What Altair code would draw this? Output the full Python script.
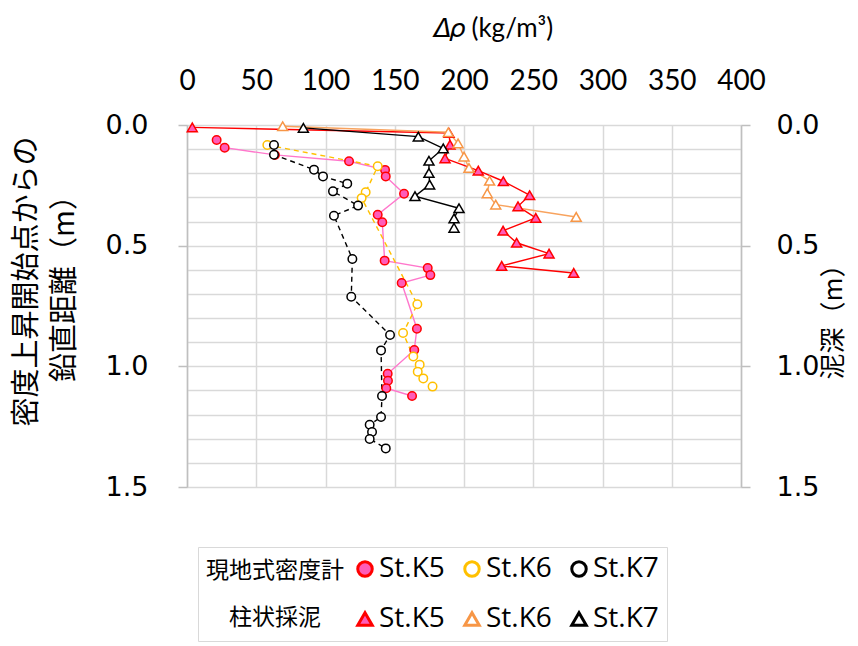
import altair as alt
import pandas as pd

# 現地式密度計 (in-situ densitometer): Δρ [kg/m3] vs. vertical distance from density-rise onset [m]
k5_probe_drho = [21.4, 27.2, 63.5, 117.0, 143.0, 143.5, 156.7, 137.7, 141.0, 142.7,
                 173.8, 175.7, 155.0, 166.0, 164.1, 144.9, 145.1, 143.9, 162.5]
k5_probe_z = [0.062, 0.094, 0.124, 0.150, 0.186, 0.213, 0.285, 0.372, 0.403, 0.562,
              0.593, 0.622, 0.655, 0.844, 0.932, 1.031, 1.060, 1.091, 1.123]
k6_probe_drho = [58.0, 137.7, 129.0, 126.1, 166.3, 156.0, 163.4, 168.0, 166.6, 170.6, 177.3]
k6_probe_z = [0.083, 0.171, 0.279, 0.303, 0.743, 0.862, 0.959, 0.993, 1.022, 1.050, 1.084]
k7_probe_drho = [62.8, 62.8, 91.7, 98.2, 115.7, 105.4, 123.5, 106.1, 119.4, 118.6,
                 146.6, 140.1, 140.8, 140.1, 131.9, 133.6, 131.9, 143.5]
k7_probe_z = [0.083, 0.123, 0.185, 0.213, 0.243, 0.275, 0.334, 0.376, 0.555, 0.712,
              0.870, 0.934, 1.123, 1.210, 1.242, 1.272, 1.301, 1.340]

# 柱状採泥 (core sampling)
k5_core_drho = [3.8, 189.2, 189.9, 186.3, 210.3, 228.4, 247.4, 239.0, 251.8, 228.2,
                238.0, 261.4, 227.2, 279.2]
k5_core_z = [0.010, 0.033, 0.082, 0.138, 0.189, 0.233, 0.291, 0.337, 0.385, 0.438,
             0.488, 0.533, 0.584, 0.613]
k6_core_drho = [69.1, 188.7, 195.7, 200.0, 203.6, 218.5, 216.8, 222.9, 281.0]
k6_core_z = [0.005, 0.030, 0.076, 0.131, 0.178, 0.231, 0.283, 0.330, 0.381]
k7_core_drho = [84.0, 167.0, 185.0, 174.7, 174.7, 175.2, 164.6, 196.4, 192.8, 192.8]
k7_core_z = [0.012, 0.048, 0.097, 0.148, 0.199, 0.247, 0.295, 0.345, 0.387, 0.426]

series = [
    ("probe", "St.K5", k5_probe_drho, k5_probe_z),
    ("probe", "St.K6", k6_probe_drho, k6_probe_z),
    ("probe", "St.K7", k7_probe_drho, k7_probe_z),
    ("core", "St.K5", k5_core_drho, k5_core_z),
    ("core", "St.K6", k6_core_drho, k6_core_z),
    ("core", "St.K7", k7_core_drho, k7_core_z),
]
rows = []
for method, st, xs, zs in series:
    for i, (xv, zv) in enumerate(zip(xs, zs)):
        rows.append({"method": method, "station": st, "key": f"{method}|{st}",
                     "drho": xv, "z": zv, "idx": i})
df = pd.DataFrame(rows)
keys = [f"{m}|{s}" for m, s, _, _ in series]

JP = "Noto Sans CJK JP"
GRID = "#d9d9d9"
AXIS = "#bfbfbf"

half_test = "abs(datum.value * 2 - round(datum.value * 2)) < 0.001"
y_ticks = [round(i * 0.1, 1) for i in range(16)]

x_enc = alt.X(
    "drho:Q",
    scale=alt.Scale(domain=[0, 400], nice=False),
    axis=alt.Axis(
        orient="top", values=list(range(0, 401, 50)), title="𝛥𝜌 (kg/m³)",
        grid=True, gridColor=GRID, gridWidth=1.5, ticks=False, domain=False,
        labelFont="Lato", labelFontSize=28, labelColor="#000", labelPadding=30,
        labelOverlap=False, labelFlush=False,
        titleFont="Lato", titleFontSize=26, titleFontWeight="normal", titleColor="#000",
        titleX=305, titleY=-89, titleAlign="center", titleBaseline="alphabetic",
    ),
)
y_enc = alt.Y(
    "z:Q",
    scale=alt.Scale(domain=[0, 1.5], reverse=True, nice=False),
    axis=alt.Axis(
        orient="left", values=y_ticks,
        labelExpr=f"{half_test} ? format(datum.value, '.1f') : ''",
        grid=True, gridColor=GRID, gridWidth=1.5,
        domain=True, domainColor=AXIS, domainWidth=1.5,
        tickColor=AXIS, tickWidth=1.5, tickSize=9,
        tickOpacity={"condition": {"test": half_test, "value": 1}, "value": 0},
        labelFont="DejaVu Sans", labelFontSize=27, labelColor="#000", labelPadding=30,
        title=["密度上昇開始点からの", "鉛直距離（m）"],
        titleFont=JP, titleFontSize=29, titleFontWeight="normal", titleColor="#000",
        titleLineHeight=38, titlePadding=26, titleY=156,
    ),
)

base = alt.Chart(df)

line_styles = [
    ("probe", "St.K5", "#ff77cc", []),
    ("probe", "St.K6", "#ffc000", [5, 4]),
    ("probe", "St.K7", "#000000", [5, 4]),
    ("core", "St.K5", "#ff0000", []),
    ("core", "St.K6", "#f8a35e", []),
    ("core", "St.K7", "#000000", []),
]
lines = []
for method, st, col, dash in line_styles:
    mk = {"color": col, "strokeWidth": 1.4}
    if dash:
        mk["strokeDash"] = dash
    lines.append(
        base.transform_filter(
            (alt.datum.method == method) & (alt.datum.station == st)
        ).mark_line(**mk).encode(x=x_enc, y=y_enc, order="idx:Q")
    )

# one legend: row 1 = densitometer (circles), row 2 = core samples (triangles);
# the two row captions are centred on each other
legend = alt.Legend(
    orient="none", legendX=11, legendY=422, direction="horizontal", columns=3,
    labelExpr="split(datum.label, '|')[1]",
    labelFont="Open Sans", labelFontSize=28, labelColor="#000", labelOffset=0,
    symbolSize=210, symbolStrokeWidth=3, columnPadding=13, rowPadding=22,
    padding=8, strokeColor=GRID,
    title=["現地式密度計", "柱状採泥"], titleOrient="left", titleAlign="center",
    titleFont=JP, titleFontSize=23, titleFontWeight="normal", titleColor="#000",
    titleLineHeight=47, titlePadding=-62,
)

points = base.mark_point(strokeWidth=1.5, opacity=1).encode(
    x=x_enc, y=y_enc,
    shape=alt.Shape("key:N", scale=alt.Scale(domain=keys, range=["circle"] * 3 + ["triangle-up"] * 3), legend=legend),
    stroke=alt.Stroke("key:N", scale=alt.Scale(domain=keys, range=["#ff0000", "#ffc000", "#000000", "#ff0000", "#f79646", "#000000"]), legend=legend),
    fill=alt.Fill("key:N", scale=alt.Scale(domain=keys, range=["#ff5cb8", "#ffffff", "#ffffff", "#ff5cb8", "#ffffff", "#ffffff"]), legend=legend),
    size=alt.Size("method:N", scale=alt.Scale(domain=["probe", "core"], range=[72, 100]), legend=None),
)

main = alt.layer(*lines, points)

# secondary depth axis (泥深) on the right
right_axis = base.mark_point(opacity=0).encode(
    x=x_enc,
    y=alt.Y(
        "z:Q",
        scale=alt.Scale(domain=[0, 1.5], reverse=True, nice=False),
        axis=alt.Axis(
            orient="right", values=[0, 0.5, 1.0, 1.5], format=".1f", grid=False,
            domain=True, domainColor=AXIS, domainWidth=1.5,
            tickColor=AXIS, tickWidth=1.5, tickSize=9,
            labelFont="DejaVu Sans", labelFontSize=27, labelColor="#000", labelPadding=26,
            title="泥深（m）", titleFont=JP, titleFontSize=26, titleFontWeight="normal",
            titleColor="#000", titleAngle=-90, titleX=92, titleY=190,
            titleAlign="center", titleBaseline="middle",
        ),
    ),
)

chart = alt.layer(main, right_axis).resolve_scale(y="independent").properties(
    width=554, height=362,
    padding={"left": 12, "top": 15, "right": 5, "bottom": 5},
).configure_view(stroke=None)

chart.save("out.html", embed_options={"renderer": "svg", "actions": False})
